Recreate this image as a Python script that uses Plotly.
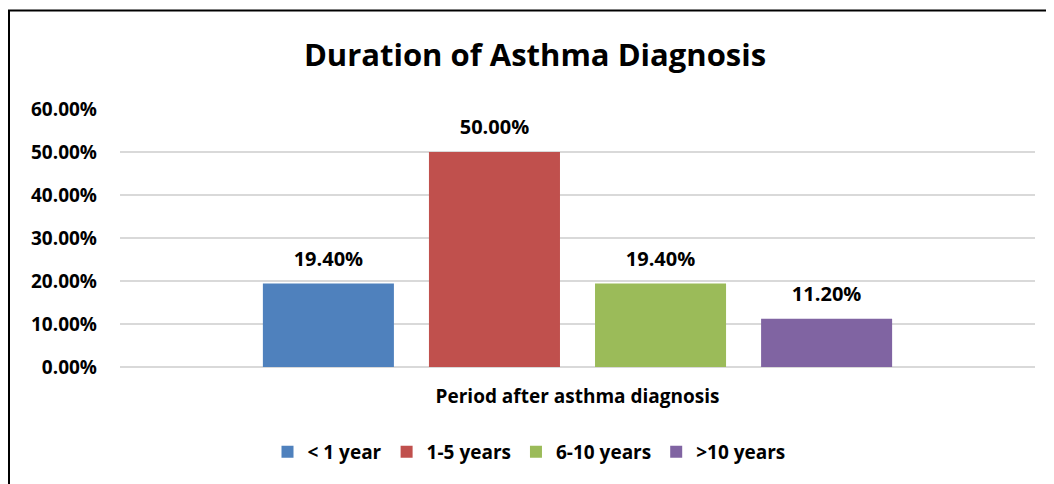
import plotly.graph_objects as go

category = ["Period after asthma diagnosis"]
series_names = ["< 1 year", "1-5 years", "6-10 years", ">10 years"]
series_values = [0.194, 0.50, 0.194, 0.112]
colors = ["#4F81BD", "#C0504D", "#9BBB59", "#8064A2"]
y_ticks = [0, 0.1, 0.2, 0.3, 0.4, 0.5, 0.6]

FONT = "Open Sans"
BODY_OFFSET = 8  # page body margin

fig = go.Figure()
for name, val, col in zip(series_names, series_values, colors):
    fig.add_trace(go.Bar(
        name=name, x=category, y=[val], marker=dict(color=col, line=dict(width=0)),
        texttemplate="<span style='font-size:20px'><b>%{y:.2%}</b></span><br><span style='font-size:8px'> </span>",
        textposition="outside", cliponaxis=False,
        textfont=dict(family=FONT, size=10, color="#000000"),
    ))

W, H = 1046, 484
ml, mr, mt, mb = 112, 19, 101, 125
pw, ph = W - ml - mr, H - mt - mb

def px_to_paper_x(px):
    return (px - BODY_OFFSET - ml) / pw

def px_to_paper_y(py):
    return (H - mb - (py - BODY_OFFSET)) / ph

fig.update_layout(
    width=W, height=H,
    margin=dict(l=ml, r=mr, t=mt, b=mb),
    paper_bgcolor="white", plot_bgcolor="white",
    barmode="group", bargap=0.274, bargroupgap=0.211,
    title=dict(text="Duration of Asthma Diagnosis", x=(535 - BODY_OFFSET) / W, xanchor="center",
               y=1 - (55 - BODY_OFFSET) / H, yanchor="middle",
               font=dict(family=FONT, size=31, color="#000000", weight="bold")),
    font=dict(family=FONT, color="#000000"),
    showlegend=True,
    legend=dict(orientation="h", x=px_to_paper_x(529), xanchor="center",
                y=px_to_paper_y(452), yanchor="middle",
                font=dict(family=FONT, size=19, color="#000000", weight="bold"),
                itemclick=False, traceorder="normal", itemwidth=30),
    xaxis=dict(showgrid=False, showline=False, ticks="", ticklabelstandoff=16,
               tickfont=dict(family=FONT, size=19, color="#000000", weight="bold")),
    yaxis=dict(range=[0, 0.6], tickvals=y_ticks, tickformat=".2%",
               showgrid=True, gridcolor="#D9D9D9", gridwidth=1.5,
               zeroline=True, zerolinecolor="#D9D9D9", zerolinewidth=1.5,
               showline=False, ticks="", ticklabelstandoff=22,
               tickfont=dict(family=FONT, size=19, color="#000000", weight="bold")),
    shapes=[dict(type="rect", xref="paper", yref="paper",
                 x0=px_to_paper_x(9), x1=px_to_paper_x(1080),
                 y0=px_to_paper_y(520), y1=px_to_paper_y(10.5),
                 line=dict(color="#000000", width=2), fillcolor="rgba(0,0,0,0)", layer="above")],
)

fig.write_html("out.html")
